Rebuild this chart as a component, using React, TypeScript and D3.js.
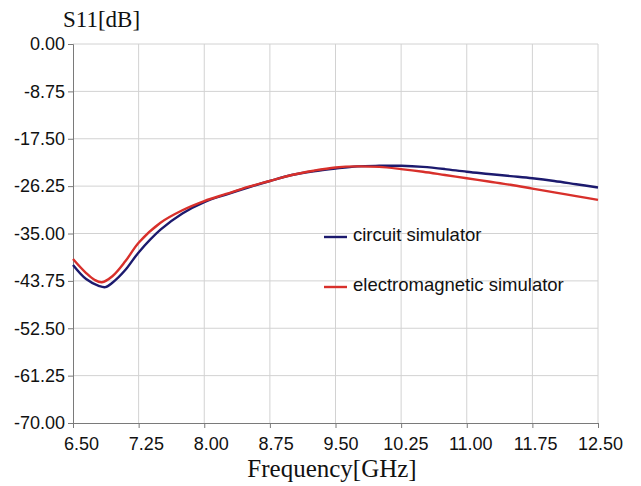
import React, { useRef, useEffect } from 'react';
import * as d3 from 'd3';

// frequency points (GHz)
const freqs = [6.5, 6.65, 6.8, 6.87, 6.95, 7.1, 7.25, 7.5, 7.75, 8.0, 8.25, 8.5, 8.75, 9.0, 9.25, 9.5, 9.75, 10.0, 10.25, 10.5, 10.75, 11.0, 11.25, 11.5, 11.75, 12.0, 12.25, 12.5];
const circuitS11 = [-40.8, -43.4, -44.7, -44.9, -44.1, -41.7, -38.5, -34.3, -31.3, -29.2, -27.8, -26.5, -25.3, -24.2, -23.5, -23.0, -22.6, -22.5, -22.5, -22.7, -23.1, -23.6, -24.0, -24.4, -24.8, -25.3, -25.9, -26.5];
const emFreqs = [6.5, 6.65, 6.75, 6.83, 6.95, 7.1, 7.25, 7.5, 7.75, 8.0, 8.25, 8.5, 8.75, 9.0, 9.25, 9.5, 9.75, 10.0, 10.25, 10.5, 10.75, 11.0, 11.25, 11.5, 11.75, 12.0, 12.25, 12.5];
const emS11 = [-39.7, -42.3, -43.6, -44.0, -42.9, -40.1, -36.7, -33.0, -30.7, -29.0, -27.7, -26.4, -25.3, -24.2, -23.4, -22.8, -22.6, -22.7, -23.1, -23.6, -24.2, -24.8, -25.4, -26.0, -26.7, -27.4, -28.1, -28.8];

const xTicks = [6.5, 7.25, 8.0, 8.75, 9.5, 10.25, 11.0, 11.75, 12.5];
const yTicks = [0, -8.75, -17.5, -26.25, -35, -43.75, -52.5, -61.25, -70];

const seriesNames = ['circuit simulator', 'electromagnetic simulator'];
const seriesColors = ['#1c1a6e', '#d8302b'];

export default function App() {
  const svgRef = useRef(null);

  useEffect(() => {
    const W = 641, H = 486;
    const left = 73, right = 598, top = 44, bottom = 423;
    const svg = d3.select(svgRef.current).attr('width', W).attr('height', H);
    svg.selectAll('*').remove();

    svg.append('rect').attr('width', W).attr('height', H).attr('fill', '#fff');

    const x = d3.scaleLinear().domain([6.5, 12.5]).range([left, right]);
    const y = d3.scaleLinear().domain([-70, 0]).range([bottom, top]);

    // grid
    svg.append('g').selectAll('line').data(xTicks.slice(1)).enter().append('line')
      .attr('x1', d => x(d)).attr('x2', d => x(d))
      .attr('y1', top).attr('y2', bottom)
      .attr('stroke', '#d2d2d2').attr('stroke-width', 1);
    svg.append('g').selectAll('line').data(yTicks.slice(0, -1)).enter().append('line')
      .attr('x1', left).attr('x2', right)
      .attr('y1', d => y(d)).attr('y2', d => y(d))
      .attr('stroke', '#d2d2d2').attr('stroke-width', 1);

    // axes (plain hyphen for the minus, like the original)
    const fmt = d => d3.format('.2f')(d).replace('\u2212', '-');
    const yAxis = d3.axisLeft(y).tickValues(yTicks).tickSize(5).tickPadding(3).tickFormat(fmt);
    const gy = svg.append('g').attr('transform', `translate(${left},0)`).call(yAxis);
    const xAxis = d3.axisBottom(x).tickValues(xTicks).tickSize(5).tickPadding(9).tickFormat(fmt);
    const gx = svg.append('g').attr('transform', `translate(0,${bottom})`).call(xAxis);
    [gx, gy].forEach(g => {
      g.select('.domain').attr('stroke', '#7a7a7a');
      g.selectAll('.tick line').attr('stroke', '#7a7a7a');
      g.selectAll('.tick text').attr('fill', '#111')
        .style('font-family', 'Arial, "Liberation Sans", sans-serif').style('font-size', '18px');
    });
    // labels sit a little right of their ticks in the original
    gx.selectAll('.tick text').attr('dx', (d, i) => 8 - 0.75 * i);

    // curves
    const line = d3.line().x(d => x(d[0])).y(d => y(d[1])).curve(d3.curveCatmullRom.alpha(0.5));
    const series = [
      freqs.map((f, i) => [f, circuitS11[i]]),
      emFreqs.map((f, i) => [f, emS11[i]]),
    ];
    series.forEach((pts, i) => {
      svg.append('path').datum(pts)
        .attr('fill', 'none').attr('stroke', seriesColors[i]).attr('stroke-width', 2.4)
        .attr('d', line);
    });

    // legend
    const lg = svg.append('g').attr('transform', 'translate(324,237)');
    seriesNames.forEach((name, i) => {
      const row = lg.append('g').attr('transform', `translate(0,${i * 50})`);
      row.append('line').attr('x1', 0).attr('x2', 23).attr('y1', 0).attr('y2', 0)
        .attr('stroke', seriesColors[i]).attr('stroke-width', 2.4);
      row.append('text').attr('x', 29).attr('y', -2).attr('dy', '0.32em')
        .attr('fill', '#111')
        .style('font-family', 'Arial, "Liberation Sans", sans-serif').style('font-size', '18.5px')
        .text(name);
    });

    // titles
    svg.append('text').attr('x', 63).attr('y', 27)
      .style('font-family', '"Liberation Serif", "Times New Roman", serif').style('font-size', '23px')
      .attr('fill', '#111').text('S11[dB]');
    svg.append('text').attr('x', 332).attr('y', 477).attr('text-anchor', 'middle')
      .style('font-family', '"Liberation Serif", "Times New Roman", serif').style('font-size', '25px')
      .attr('fill', '#111').text('Frequency[GHz]');
  }, []);

  return <svg ref={svgRef} style={{ position: 'absolute', left: 0, top: 0, display: 'block' }}></svg>;
}
